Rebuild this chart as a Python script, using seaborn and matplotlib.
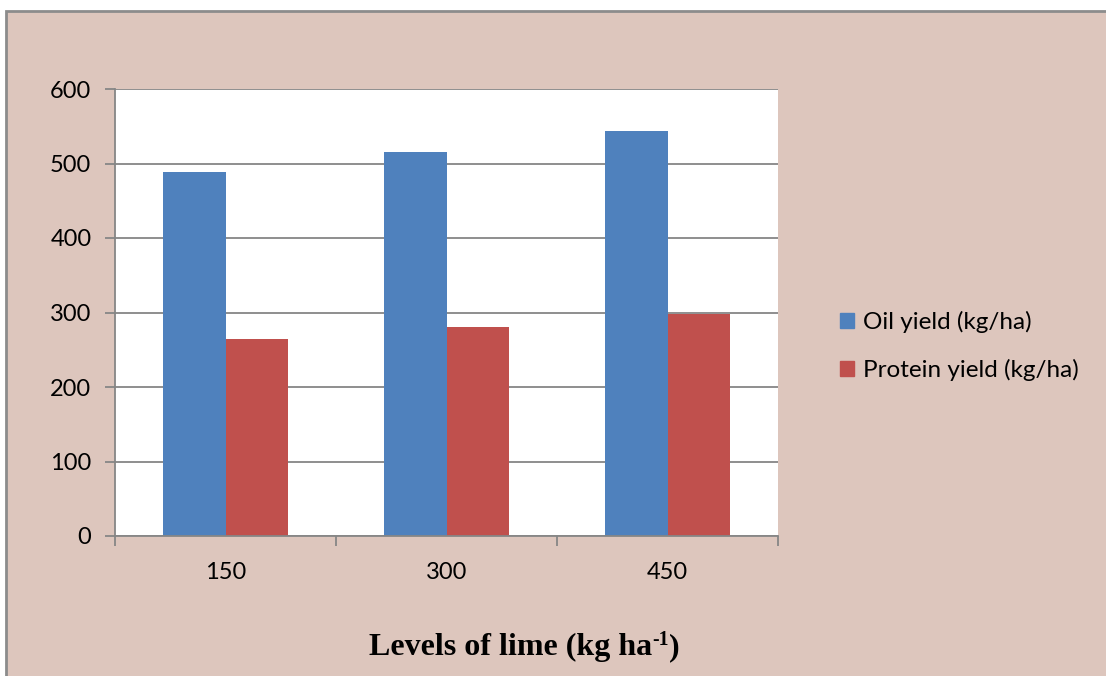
import matplotlib
matplotlib.use("Agg")
import matplotlib.pyplot as plt
import matplotlib.patches as mpatches
import seaborn as sns
import pandas as pd

categories = ["150", "300", "450"]
oil_yield = [488, 515, 543]
protein_yield = [264, 280, 298]
series_names = ["Oil yield (kg/ha)", "Protein yield (kg/ha)"]
yticks = [0, 100, 200, 300, 400, 500, 600]

df = pd.DataFrame({
    "Level": categories * 2,
    "Value": oil_yield + protein_yield,
    "Series": [series_names[0]] * 3 + [series_names[1]] * 3,
})

sns.set_theme(style="white")
plt.rcParams["font.family"] = ["Lato", "DejaVu Sans"]
plt.rcParams["text.color"] = "black"

BG = "#DDC6BD"
W, H = 1106, 676
fig = plt.figure(figsize=(W / 100, H / 100), dpi=100, facecolor="white")

# pink chart area with gray border on top/left
bg = mpatches.Rectangle((6 / W, -0.01), 1, 1.01 - 11 / H, transform=fig.transFigure,
                        facecolor=BG, edgecolor="#8C8C8C", linewidth=2, zorder=-10)
fig.add_artist(bg)

ax = fig.add_axes([115 / W, (H - 536) / H, 663 / W, 447 / H])
ax.set_zorder(1)
ax.set_facecolor("white")

palette = {series_names[0]: "#4F81BD", series_names[1]: "#C0504D"}
sns.barplot(data=df, x="Level", y="Value", hue="Series", palette=palette,
            width=0.57, gap=0, ax=ax, saturation=1, legend=False,
            edgecolor="none", linewidth=0)

ax.set_xlim(-0.5, 2.5)
ax.set_ylim(0, 600)
ax.set_yticks(yticks)
ax.set_yticklabels([str(t) for t in yticks])
ax.yaxis.grid(True, color="#868686", linewidth=1.3)
ax.set_axisbelow(True)

for s in ["top", "right"]:
    ax.spines[s].set_visible(False)
for s in ["left", "bottom"]:
    ax.spines[s].set_color("#868686")
    ax.spines[s].set_linewidth(1.3)

ax.tick_params(axis="y", which="major", left=True, length=7, width=1.3,
               color="#868686", labelsize=17, pad=10, labelcolor="black")
ax.set_xticks([0, 1, 2])
ax.set_xticklabels(categories)
ax.tick_params(axis="x", which="major", bottom=False, labelsize=17, pad=13,
               labelcolor="black")
ax.set_xticks([-0.5, 0.5, 1.5, 2.5], minor=True)
ax.tick_params(axis="x", which="minor", bottom=True, length=7, width=1.3,
               color="#868686")
ax.set_xlabel("")
ax.set_ylabel("")

# x axis title with superscript, built from text pieces
serif = ["Liberation Serif", "DejaVu Serif"]
fig.canvas.draw()
renderer = fig.canvas.get_renderer()
fs = 23
t1 = fig.text(0, 0, "Levels of lime (kg ha", fontsize=fs, fontweight="bold",
              family=serif, va="baseline", ha="left", color="black")
t2 = fig.text(0, 0, "-1", fontsize=fs * 0.62, fontweight="bold",
              family=serif, va="baseline", ha="left", color="black")
t3 = fig.text(0, 0, ")", fontsize=fs, fontweight="bold",
              family=serif, va="baseline", ha="left", color="black")
w1 = t1.get_window_extent(renderer).width
w2 = t2.get_window_extent(renderer).width
w3 = t3.get_window_extent(renderer).width
total = w1 + w2 + w3
x0 = 524 - total / 2
yb = H - 655
t1.set_position((x0 / W, yb / H))
t2.set_position(((x0 + w1) / W, (yb + 10) / H))
t3.set_position(((x0 + w1 + w2) / W, yb / H))

handles = [mpatches.Patch(color=palette[n], label=n) for n in series_names]
fig.legend(handles=handles, loc="center left",
           bbox_to_anchor=(818 / W, 1 - 346 / H), frameon=False,
           fontsize=17.5, handlelength=0.6, handleheight=0.6,
           handletextpad=0.35, labelspacing=1.05, labelcolor="black")

fig.savefig("out.png", dpi=100, facecolor="white")
